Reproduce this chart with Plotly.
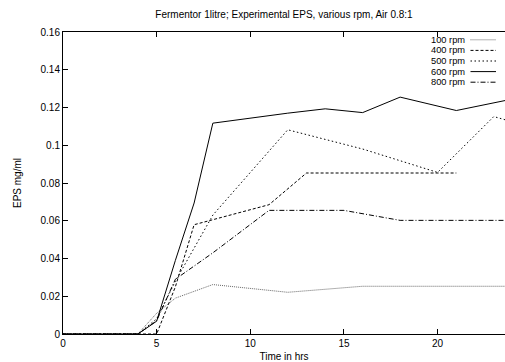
import plotly.graph_objects as go

# ---- data ----
t_100 = [0, 4, 5, 6, 8, 12, 16, 20, 24]
v_100 = [0, 0, 0.011, 0.019, 0.0262, 0.0221, 0.0253, 0.0253, 0.0253]

t_400 = [0, 4, 5, 6, 7, 11, 13, 15, 18, 21]
v_400 = [0, 0, 0, 0.025, 0.0579, 0.0685, 0.0853, 0.0853, 0.0853, 0.0853]

t_500 = [0, 4, 5, 6, 8, 12, 16, 18, 20, 23, 24]
v_500 = [0, 0, 0.008, 0.028, 0.063, 0.1082, 0.098, 0.092, 0.0856, 0.1152, 0.1124]

t_600 = [0, 4, 5, 6, 7, 8, 12, 14, 16, 18, 21, 24]
v_600 = [0, 0, 0.0068, 0.039, 0.0694, 0.1117, 0.117, 0.1193, 0.1173, 0.1255, 0.1184, 0.1245]

t_800 = [0, 4, 5, 6, 8, 11, 15, 18, 24]
v_800 = [0, 0, 0.007, 0.029, 0.043, 0.0655, 0.0655, 0.0602, 0.0602]

labels = ["100 rpm", "400 rpm", "500 rpm", "600 rpm", "800 rpm"]
x_ticks = [0, 5, 10, 15, 20]
y_ticks = [0, 0.02, 0.04, 0.06, 0.08, 0.1, 0.12, 0.14, 0.16]
y_tick_text = ["0", "0.02", "0.04", "0.06", "0.08", "0.1", "0.12", "0.14", "0.16"]

title = "Fermentor 1litre; Experimental EPS, various rpm, Air 0.8:1"
x_title = "Time in hrs"
y_title = "EPS mg/ml"

# ---- styles ----
styles = [
    dict(color="#666666", dash="1px,1px"),
    dict(color="black", dash="3px,2px"),
    dict(color="black", dash="1.5px,2.5px"),
    dict(color="black", dash="solid"),
    dict(color="black", dash="5px,2px,1px,2px"),
]
series = [(t_100, v_100), (t_400, v_400), (t_500, v_500), (t_600, v_600), (t_800, v_800)]

W, H = 505, 362
ML, MR, MT, MB = 63, 0, 32, 28
PW, PH = W - ML - MR, H - MT - MB
FONT = "Liberation Sans, Arial, sans-serif"

fig = go.Figure()
for (t, v), name, st in zip(series, labels, styles):
    fig.add_trace(go.Scatter(x=t, y=v, mode="lines", name=name,
                             line=dict(color=st["color"], dash=st["dash"], width=1),
                             showlegend=False))

# manual gnuplot-style legend (text left, sample right)
def px_to_paper_x(px):
    return (px - ML) / PW

def py_to_paper_y(py):
    return (MT + PH - py) / PH

ROW = 10.6
LEG_FONT = 9.3
for i, (name, st) in enumerate(zip(labels, styles)):
    py = 39.8 + ROW * i
    fig.add_annotation(x=px_to_paper_x(466), y=py_to_paper_y(py), xref="paper", yref="paper",
                       text=name, showarrow=False, xanchor="right", yanchor="middle",
                       borderpad=0, align="right",
                       font=dict(family=FONT, size=LEG_FONT, color="black"))
    fig.add_shape(type="line", xref="paper", yref="paper",
                  x0=px_to_paper_x(470.5), x1=px_to_paper_x(496),
                  y0=py_to_paper_y(py), y1=py_to_paper_y(py),
                  line=dict(color=st["color"], dash=st["dash"], width=1))

x_max = PW / 18.73

fig.update_layout(
    width=W, height=H,
    margin=dict(l=ML, r=MR, t=MT, b=MB),
    paper_bgcolor="white", plot_bgcolor="white",
    font=dict(family=FONT, size=10, color="black"),
    title=dict(text=title, x=(ML + PW / 2) / W, xanchor="center", y=1 - 14 / H, yanchor="middle",
               font=dict(family=FONT, size=10, color="black")),
    showlegend=False,
)
fig.update_xaxes(range=[0, x_max], tickvals=x_ticks, ticktext=[str(v) for v in x_ticks],
                 ticks="inside", ticklen=5, tickcolor="black", showline=True, linecolor="black",
                 linewidth=1, mirror="ticks", showgrid=False, zeroline=False,
                 title=dict(text=x_title, standoff=7, font=dict(size=10)))
fig.update_yaxes(range=[0, 0.16], tickvals=y_ticks, ticktext=y_tick_text,
                 ticks="inside", ticklen=5, tickcolor="black", showline=True, linecolor="black",
                 linewidth=1, mirror=False, showgrid=False, zeroline=False,
                 title=dict(text=y_title, standoff=17, font=dict(size=10)))

fig.write_html("out.html")
